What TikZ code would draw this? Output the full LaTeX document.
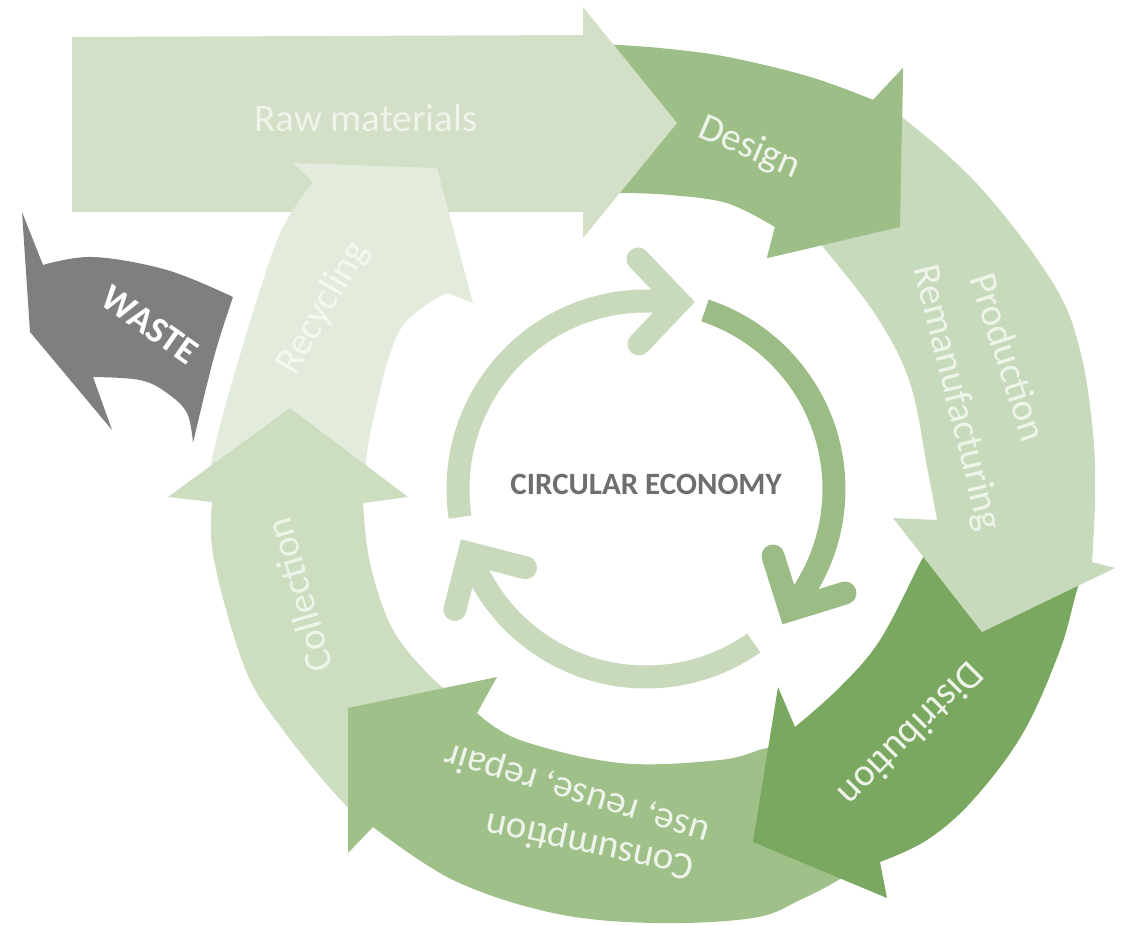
\documentclass[tikz,border=0pt]{standalone}
\usepackage{fontspec}
\setmainfont{Carlito}
\definecolor{cRaw}{HTML}{D3DFC7}
\definecolor{cDesign}{HTML}{9DBF87}
\definecolor{cProd}{HTML}{C8DABC}
\definecolor{cDist}{HTML}{7AA860}
\definecolor{cCons}{HTML}{A0C08A}
\definecolor{cColl}{HTML}{CDDDC0}
\definecolor{cRecy}{HTML}{E3ECDC}
\definecolor{cWaste}{HTML}{7F7F7F}
\definecolor{cRingL}{HTML}{C8DABB}
\definecolor{cRingM}{HTML}{9BBD85}
\definecolor{cLbl}{HTML}{EEF4EA}
\definecolor{cLblB}{HTML}{F4F8F1}
\definecolor{cCE}{HTML}{6E6E6E}
\begin{document}
\begin{tikzpicture}[x=1pt,y=-1pt,
  lbl/.style={text=cLbl, font=\fontsize{39}{46}\selectfont, inner sep=0pt},
  ring/.style={line width=23pt, line cap=butt},
  chev/.style={line width=23pt, line cap=round, line join=miter},
  sm/.style={smooth, tension=0.6}]
\useasboundingbox (0,0) rectangle (1129,925);

% Design (bottom layer)
\fill[cDesign] (600,44) -- plot[sm] coordinates {(600,44) (660,48) (727,57) (810,77) (873,100)}
  -- (903,68) -- (900,227) -- (767,258) -- (775,227)
  -- plot[sm] coordinates {(775,227) (727,203) (670,195) (627,193) (600,193)} -- cycle;

% Raw materials
\fill[cRaw] (72,37) -- (583,35) -- (583,7) -- (677,123) -- (583,238) -- (583,212) -- (72,212) -- cycle;

% Recycling
\fill[cRecy] (215,492) -- plot[sm] coordinates {(215,492) (210,470) (227,400) (260,290) (283,227) (313,182)}
  -- (293,163) -- (437,168) -- (473,303) -- (447,293)
  -- plot[sm] coordinates {(447,293) (400,330) (373,420) (365,470) (360,492)} -- cycle;

% Collection
\fill[cColl] (380,800) -- (455,694) -- plot[sm] coordinates {(455,694) (433,679) (393,630) (370,563) (363,503)}
  -- (408,497) -- (290,408) -- (168,497) -- (212,502)
  -- plot[sm] coordinates {(212,502) (212,547) (227,613) (250,680) (283,730) (323,780) (352,812)} -- cycle;

% Consumption
\fill[cCons] (790,748) -- plot[sm] coordinates {(790,748) (767,748) (720,760) (620,763) (520,740) (477,713)}
  -- (497,677) -- (348,708) -- (348,853) -- (373,827)
  -- plot[sm] coordinates {(373,827) (453,880) (553,913) (653,923) (753,918) (800,900) (840,879) (862,862)} -- cycle;

% Distribution
\fill[cDist] (1085,572) -- plot[sm] coordinates {(1085,572) (1077,590) (1060,650) (1023,733) (973,800) (927,840) (880,862)}
  -- (887,898) -- (753,842) -- (778,687) -- (795,727)
  -- plot[sm] coordinates {(795,727) (840,687) (880,640) (920,563) (930,545)} -- cycle;

% Production
\fill[cProd] (880,108) -- plot[sm] coordinates {(880,108) (903,118) (980,187) (1053,283) (1080,350) (1093,433) (1095,500) (1092,562)}
  -- (1115,568) -- (982,632) -- (893,518) -- (937,520)
  -- plot[sm] coordinates {(937,520) (927,467) (910,383) (877,317) (823,247) (812,238)} -- cycle;

% Design head again on top of Production tail
\begin{scope}
\clip (700,0) rectangle (1129,400);
\fill[cDesign] (600,44) -- plot[sm] coordinates {(600,44) (660,48) (727,57) (810,77) (873,100)}
  -- (903,68) -- (900,227) -- (767,258) -- (775,227)
  -- plot[sm] coordinates {(775,227) (727,203) (670,195) (627,193) (600,193)} -- cycle;
\end{scope}

% Waste
\fill[cWaste] (22,212) -- (43,265) -- plot[sm] coordinates {(43,265) (93,257) (167,270) (233,297)}
  -- plot[sm] coordinates {(233,297) (214,357) (193,443)}
  -- plot[sm] coordinates {(193,443) (187,413) (167,393) (140,380) (93,377)}
  -- (112,430) -- (30,332) -- cycle;

% Inner circle arrows
\draw[ring, cRingL] (460.1,517.1) arc[start angle=-188.6, end angle=-80, radius=188];
\draw[chev, cRingL] (638,259) -- (679,302) -- (639,344);
\draw[ring, cRingM] (705.0,310.5) arc[start angle=-71.7, end angle=40, radius=188];
\draw[chev, cRingM] (773,556) -- (790,610) -- (845,593);
\draw[ring, cRingL] (753.8,643.0) arc[start angle=55, end angle=160, radius=188];
\draw[chev, cRingL] (525.5,567.7) -- (469.3,553.3) -- (454.9,609.5);

% Labels
\node[lbl] (raw) at (366,118) {Raw materials};
\node[lbl, rotate=-23] (design) at (749,148) {Design};
\node[lbl, rotate=-72] (prod) at (1009,357) {Production};
\node[lbl, rotate=-76] (reman) at (956,398) {Remanufacturing};
\node[lbl, rotate=-135] (dist) at (912,735) {Distribution};
\node[lbl, rotate=168] (cons) at (590,845) {Consumption};
\node[lbl, rotate=163] (use) at (577,793) {use, reuse, repair};
\node[lbl, rotate=106] (coll) at (299,595) {Collection};
\node[lbl, text=cLblB, rotate=60] (recy) at (323,308) {Recycling};
\node[inner sep=0pt, text=white, rotate=-35, font=\bfseries\fontsize{37}{44}\selectfont] (waste) at (150,325) {WASTE};
\node[inner sep=0pt, text=cCE, font=\bfseries\fontsize{31}{37}\selectfont] (ce) at (646,484) {CIRCULAR ECONOMY};
\end{tikzpicture}
\end{document}
